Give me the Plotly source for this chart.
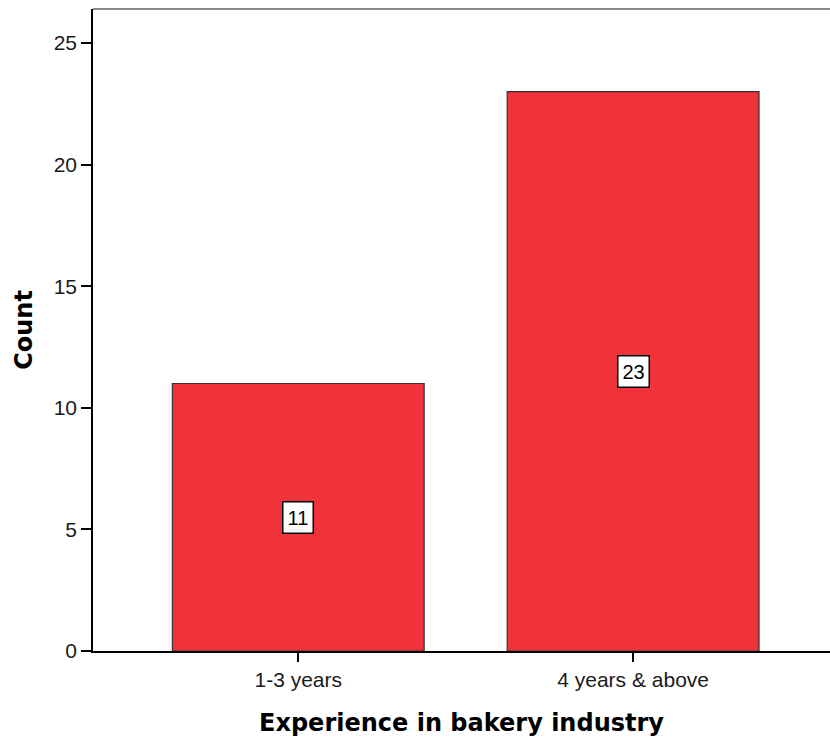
import plotly.graph_objects as go

categories = ["1-3 years", "4 years & above"]
counts = [11, 23]
y_ticks = [0, 5, 10, 15, 20, 25]

fig = go.Figure()
fig.add_trace(go.Bar(
    x=categories, y=counts, width=0.752,
    marker=dict(color="#F0323B", line=dict(color="#333333", width=1.2)),
    hoverinfo="skip",
))

for c, v in zip(categories, counts):
    fig.add_annotation(
        x=c, y=v / 2, text=str(v), showarrow=False,
        font=dict(family="Liberation Sans, Arial", size=20, color="black"),
        bgcolor="white", bordercolor="black", borderwidth=1.5, borderpad=4,
    )

fig.add_shape(type="line", xref="paper", yref="paper", x0=0, x1=1, y0=1, y1=1,
              line=dict(color="#888888", width=2))

fig.update_layout(
    width=830, height=742,
    margin=dict(l=93, r=0, t=9, b=91),
    plot_bgcolor="white", paper_bgcolor="white",
    showlegend=False,
    font=dict(family="Liberation Sans, Arial", size=21, color="#1a1a1a"),
    xaxis=dict(
        range=[-0.613, 1.588], showline=True, linecolor="black", linewidth=1.5,
        ticks="outside", ticklen=9, tickcolor="black", tickwidth=1.5,
        showgrid=False, zeroline=False,
        tickfont=dict(size=21, color="#1a1a1a"),
        title=dict(text="<b>Experience in bakery industry</b>",
                   font=dict(family="DejaVu Sans", size=24, color="black"),
                   standoff=24),
    ),
    yaxis=dict(
        range=[0, 26.4], tickvals=y_ticks, showline=True, linecolor="black", linewidth=1.5,
        ticks="outside", ticklen=10, tickcolor="black", tickwidth=1.5,
        showgrid=False, zeroline=False,
        tickfont=dict(size=21, color="#1a1a1a"),
        title=dict(text="<b>Count</b>",
                   font=dict(family="DejaVu Sans", size=24, color="black"),
                   standoff=14),
    ),
)

fig.write_html("out.html")
